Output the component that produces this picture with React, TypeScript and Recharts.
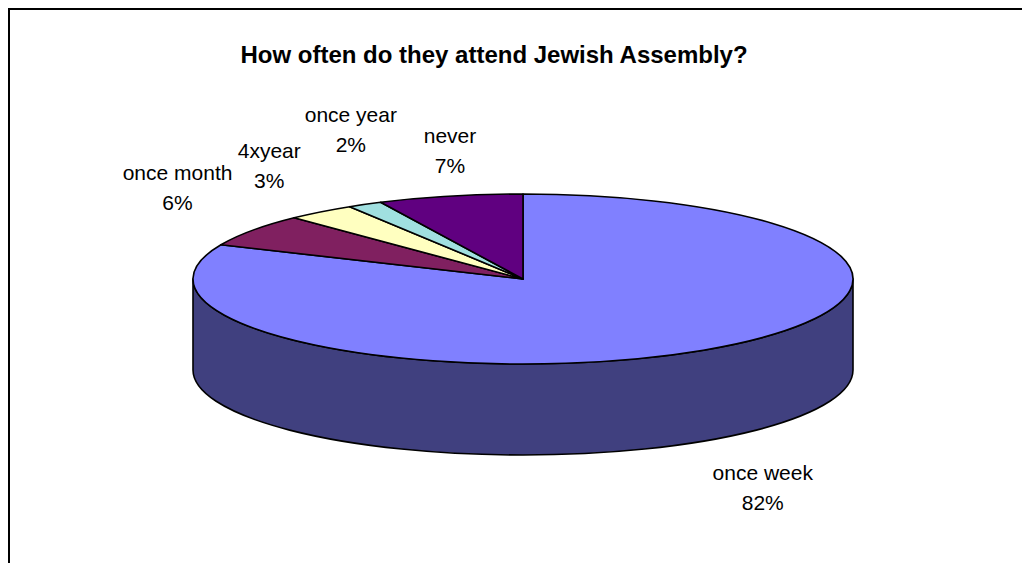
import React from 'react';
import { PieChart, Pie, Cell } from 'recharts';

// ---- data ----
const categories = ['once week', 'once month', '4xyear', 'once year', 'never'];
const shares = [81.6, 6.2, 3.4, 1.7, 7.1];
const topColors = ['#8080FF', '#802060', '#FFFFC0', '#A0E0E0', '#600080'];
const sideColors = ['#40407F', '#401030', '#808060', '#507070', '#300040'];
const chartTitle = 'How often do they attend Jewish Assembly?';

// ---- layout ----
const W = 1020;
const H = 553;
const CX = 513;
const CY = 269;
const OUTER = 330;
const TILT = 85 / 330;
const DEPTH = 91;
const START = 90;
const END = -270;
const FONT = "'Liberation Sans', Arial, sans-serif";
const LABEL_SIZE = 21;
const GAPX = 20;
const GAPY = 19;
const BOX_H = 54;
const PAD = 4;

const pieData = categories.map((name, i) => ({ name, value: shares[i] }));

const rad = (d: number) => (d * Math.PI) / 180;
const clamp01 = (v: number) => Math.max(0, Math.min(1, v));

function EllipseSector(props: any) {
  const { cx, cy, startAngle, endAngle, fill, payload, name, outerRadius } = props;
  const rx = outerRadius;
  const ry = outerRadius * TILT;
  const pt = (a: number): [number, number] => [cx + rx * Math.cos(rad(a)), cy - ry * Math.sin(rad(a))];
  const idx = categories.indexOf(name ?? payload?.name);
  const side = sideColors[idx] ?? '#333';
  const lo = Math.min(startAngle, endAngle);
  const hi = Math.max(startAngle, endAngle);
  const sides: string[] = [];
  for (let k = -2; k <= 1; k++) {
    const s = Math.max(lo, 180 + 360 * k);
    const e = Math.min(hi, 360 + 360 * k);
    if (e - s > 0.01) {
      const [x1, y1] = pt(s);
      const [x2, y2] = pt(e);
      sides.push(
        `M${x1},${y1} A${rx},${ry} 0 0 0 ${x2},${y2} L${x2},${y2 + DEPTH} A${rx},${ry} 0 0 1 ${x1},${y1 + DEPTH} Z`
      );
    }
  }
  const [sx, sy] = pt(startAngle);
  const [ex, ey] = pt(endAngle);
  const large = Math.abs(endAngle - startAngle) > 180 ? 1 : 0;
  const sweep = endAngle < startAngle ? 1 : 0;
  const top = `M${cx},${cy} L${sx},${sy} A${rx},${ry} 0 ${large} ${sweep} ${ex},${ey} Z`;
  return (
    <g>
      {sides.map((d, i) => (
        <path key={i} d={d} fill={side} stroke="#000" strokeWidth={1.6} strokeLinejoin="round" />
      ))}
      <path d={top} fill={fill} stroke="#000" strokeWidth={1.6} strokeLinejoin="round" />
    </g>
  );
}

let ctx: CanvasRenderingContext2D | null = null;
function textWidth(t: string) {
  if (!ctx) ctx = document.createElement('canvas').getContext('2d');
  if (!ctx) return t.length * 10;
  ctx.font = `${LABEL_SIZE}px ${FONT}`;
  return ctx.measureText(t).width;
}

type Box = { x: number; y: number; w: number; h: number };
const layoutCache: Record<string, Box[]> = {};
function layoutLabels(cx: number, cy: number, outer: number): Box[] {
  const key = `${cx},${cy},${outer}`;
  if (layoutCache[key]) return layoutCache[key];
  const rx = outer;
  const ry = outer * TILT;
  const total = shares.reduce((a, b) => a + b, 0);
  let acc = 0;
  const boxes: Box[] = shares.map((v, i) => {
    const sweep = (v / total) * (START - END);
    const mid = START - (acc + sweep / 2);
    acc += sweep;
    const c = Math.cos(rad(mid));
    const s = Math.sin(rad(mid));
    const px = cx + rx * c;
    let py = cy - ry * s;
    if (s < 0) py += DEPTH;
    const pct = `${Math.round((v / total) * 100)}%`;
    const w = Math.max(textWidth(categories[i]), textWidth(pct));
    const fx = clamp01((Math.abs(c) - 0.25) / 0.35);
    const fy = clamp01((Math.abs(s) - 0.25) / 0.35);
    const x = px + Math.sign(c) * fx * (GAPX + w / 2);
    const y = py - Math.sign(s) * fy * (GAPY + BOX_H / 2);
    return { x, y, w, h: BOX_H };
  });
  for (let i = 1; i < boxes.length; i++) {
    for (let j = 0; j < i; j++) {
      const a = boxes[i];
      const b = boxes[j];
      const ox = (a.w + b.w) / 2 + PAD - Math.abs(a.x - b.x);
      const oy = (a.h + b.h) / 2 - Math.abs(a.y - b.y);
      if (ox > 0 && oy > 0) {
        const dx = Math.sign(a.x - b.x) || 1;
        const dy = Math.sign(a.y - b.y) || -1;
        const t = Math.min(ox, oy);
        a.x += dx * t;
        a.y += dy * t;
      }
    }
  }
  layoutCache[key] = boxes;
  return boxes;
}

function renderLabel(props: any) {
  const { cx, cy, outerRadius, index, percent, name } = props;
  const box = layoutLabels(cx, cy, outerRadius)[index];
  if (!box) return null;
  const label = name ?? categories[index];
  return (
    <text
      key={`lbl-${index}`}
      x={box.x}
      y={box.y}
      textAnchor="middle"
      fontFamily={FONT}
      fontSize={LABEL_SIZE}
      fill="#000"
    >
      <tspan x={box.x} y={box.y - 7.5}>{label}</tspan>
      <tspan x={box.x} y={box.y + 22.5}>{`${Math.round(percent * 100)}%`}</tspan>
    </text>
  );
}

export default function App() {
  return (
    <div
      style={{
        position: 'relative',
        width: 1022,
        height: 555,
        boxSizing: 'border-box',
        borderTop: '2px solid #000',
        borderLeft: '2px solid #000',
        background: '#fff',
        fontFamily: FONT,
        overflow: 'hidden',
      }}
    >
      <div style={{ position: 'absolute', left: 0, top: 0 }}>
        <PieChart width={W} height={H} margin={{ top: 0, right: 0, bottom: 0, left: 0 }}>
          <Pie
            data={pieData}
            dataKey="value"
            nameKey="name"
            cx={CX}
            cy={CY}
            outerRadius={OUTER}
            innerRadius={0}
            startAngle={START}
            endAngle={END}
            stroke="#000"
            isAnimationActive={false}
            shape={EllipseSector}
            activeShape={EllipseSector}
            label={renderLabel}
            labelLine={false}
          >
            {pieData.map((d, i) => (
              <Cell key={d.name} fill={topColors[i]} />
            ))}
          </Pie>
        </PieChart>
      </div>
      <div
        style={{
          position: 'absolute',
          left: 0,
          top: 32.5,
          width: 968,
          textAlign: 'center',
          fontWeight: 'bold',
          fontSize: 24,
          lineHeight: '24px',
          color: '#000',
          whiteSpace: 'nowrap',
        }}
      >
        {chartTitle}
      </div>
    </div>
  );
}
